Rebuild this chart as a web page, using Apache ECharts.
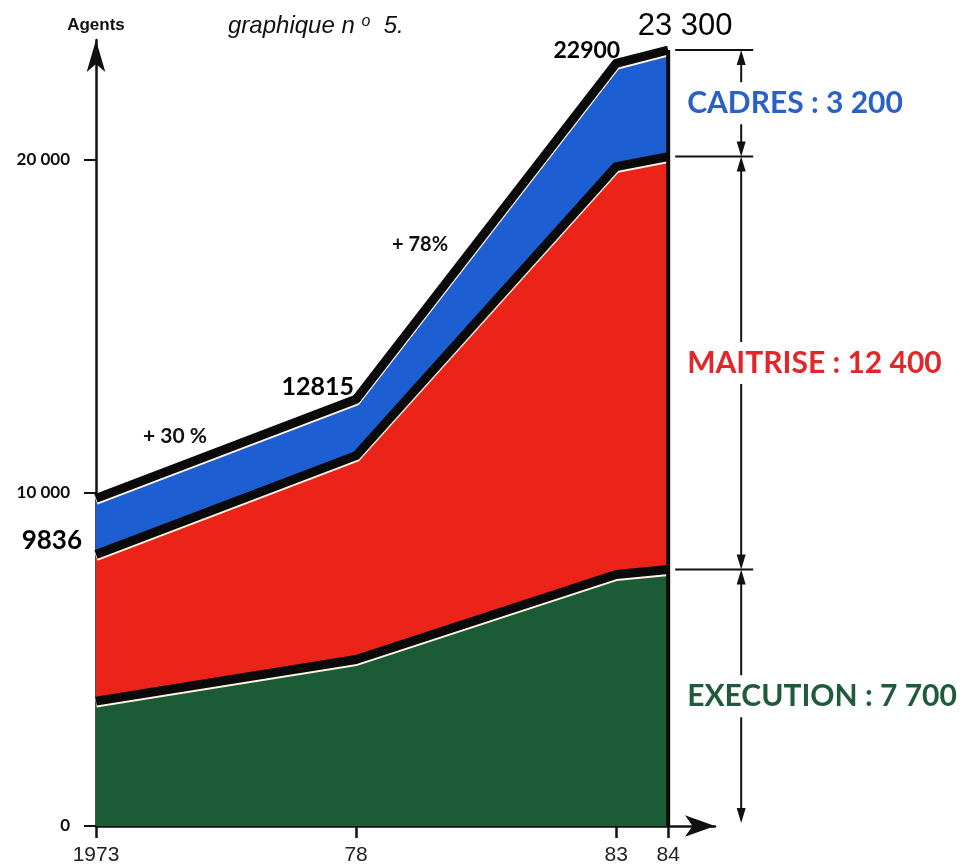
<!DOCTYPE html>
<html>
<head>
<meta charset="utf-8">
<script src="https://cdn.jsdelivr.net/npm/echarts@6/dist/echarts.min.js"></script>
<style>
  html, body { margin: 0; padding: 0; background: #ffffff; }
  #chart { width: 963px; height: 866px; }
</style>
</head>
<body>
<div id="chart"></div>
<script>
// Staff by category (agents), stacked
const years = [1973, 1978, 1983, 1984];
const yearTickLabels = ['1973', '78', '83', '84'];
const execution = [3750, 5000, 7550, 7700];
const maitrise = [4400, 6120, 12250, 12400];
const cadres = [1686, 1695, 3100, 3200];
const categoryNames = ['EXECUTION', 'MAITRISE', 'CADRES'];
const yTicks = [0, 10000, 20000];
const growthNotes = ['+ 30 %', '+ 78%'];

// cumulative layer tops
const topExecution = execution.slice();
const topMaitrise = years.map((_, i) => execution[i] + maitrise[i]);
const totals = years.map((_, i) => execution[i] + maitrise[i] + cadres[i]);

const GREEN = '#1b5b36';
const RED = '#eb2318';
const BLUE = '#1d5fd3';
const labelColors = ['#1f5a3b', '#e2262a', '#2b61c6'];
const INK = '#111111';

function groupDigits(v) {
  return String(v).replace(/\B(?=(\d{3})+(?!\d))/g, ' ');
}

function pairs(arr) {
  return arr.map((v, i) => [years[i], v]);
}

// each layer is filled from zero up to its cumulative top; upper layers are drawn first
function areaSeries(name, tops, color, z) {
  return {
    name, type: 'line', data: pairs(tops),
    symbol: 'none', clip: false, silent: true, z,
    lineStyle: { width: 0 },
    areaStyle: { color, opacity: 1 }
  };
}

function edgeSeries(tops) {
  return {
    type: 'line', data: pairs(tops),
    symbol: 'none', clip: false, silent: true, z: 3,
    lineStyle: {
      color: '#0a0a0a', width: 9, join: 'round',
      shadowColor: '#fff4e6', shadowBlur: 0, shadowOffsetY: 2
    }
  };
}

// label placement of each total, in screen offsets
const totalLabelStyles = [
  { position: 'left', distance: 14, offset: [0, 42], fontSize: 26, fontWeight: 'bold', fontFamily: 'Lato' },
  { position: 'left', distance: 2, offset: [0, -12], fontSize: 25, fontWeight: 'bold', fontFamily: 'Lato' },
  { position: 'left', distance: 0, offset: [4, -13], fontSize: 23, fontWeight: 'bold', fontFamily: 'Lato' },
  { position: 'top', distance: 4, offset: [17, -4], fontSize: 31, fontWeight: 'normal', fontFamily: 'Liberation Sans' }
];

const last = years.length - 1;
const shares = [execution[last], maitrise[last], cadres[last]];
let acc = 0;
const bracketData = shares.map((v, k) => {
  const lo = acc;
  acc += v;
  return [years[last], lo, acc, k];
});

function renderBracket(params, api) {
  const lo = api.value(1), hi = api.value(2), k = api.value(3);
  const pLo = api.coord([api.value(0), lo]);
  const pHi = api.coord([api.value(0), hi]);
  const x = pLo[0] + 73;
  const yHi = pHi[1];
  const yLo = lo === 0 ? pLo[1] - 3 : pLo[1];
  const ah = 15, aw = 4.5;
  const stroke = { stroke: INK, lineWidth: 2 };
  const children = [
    { type: 'line', shape: { x1: x, y1: yHi + ah - 1, x2: x, y2: yLo - ah + 1 }, style: stroke },
    { type: 'polygon', shape: { points: [[x, yHi], [x - aw, yHi + ah], [x + aw, yHi + ah]] }, style: { fill: INK } },
    { type: 'polygon', shape: { points: [[x, yLo], [x - aw, yLo - ah], [x + aw, yLo - ah]] }, style: { fill: INK } },
    { type: 'line', shape: { x1: pHi[0] + 7, y1: yHi, x2: pHi[0] + 85, y2: yHi }, style: stroke },
    {
      type: 'text',
      x: pLo[0] + 19, y: (yLo + yHi) / 2,
      style: {
        text: categoryNames[k] + ' : ' + groupDigits(hi - lo),
        fill: labelColors[k],
        font: 'bold 30px Lato',
        verticalAlign: 'middle', align: 'left',
        backgroundColor: '#ffffff', padding: [6, 0, 6, 0]
      }
    }
  ];
  return { type: 'group', children };
}

const chart = echarts.init(document.getElementById('chart'), null, { renderer: 'canvas' });

chart.setOption({
  backgroundColor: '#ffffff',
  animation: false,
  title: {
    text: 'graphique n {s|o}  5.',
    left: 223, top: 9,
    textStyle: {
      fontFamily: 'Liberation Sans', fontStyle: 'italic', fontWeight: 'normal',
      fontSize: 24, color: INK,
      rich: { s: { fontFamily: 'Liberation Sans', fontStyle: 'italic', fontSize: 16, verticalAlign: 'top', color: INK } }
    }
  },
  grid: { left: 96, right: 248, top: 40, bottom: 39 },
  xAxis: {
    type: 'value', min: 1973, max: 1984.9, interval: 1,
    axisLine: {
      lineStyle: { color: INK, width: 2.5 },
      symbol: ['none', 'arrow'], symbolSize: [16, 30]
    },
    axisTick: { customValues: years, length: 12, lineStyle: { color: INK, width: 2.5 } },
    axisLabel: {
      customValues: years,
      formatter: v => yearTickLabels[years.indexOf(v)],
      margin: 19, fontSize: 21, fontFamily: 'Liberation Sans', color: '#222'
    },
    splitLine: { show: false }
  },
  yAxis: {
    type: 'value', min: 0, max: 23600, interval: 10000,
    name: 'Agents', nameLocation: 'end', nameGap: 6,
    nameTextStyle: { fontFamily: 'Liberation Sans', fontWeight: 'bold', fontSize: 17, color: INK, align: 'center' },
    axisLine: {
      show: true, lineStyle: { color: INK, width: 2.5 },
      symbol: ['none', 'arrow'], symbolSize: [14, 32]
    },
    axisTick: { show: true, customValues: yTicks, length: 12, lineStyle: { color: INK, width: 2 } },
    axisLabel: {
      customValues: yTicks, margin: 26,
      formatter: v => groupDigits(v),
      fontFamily: 'Lato', fontWeight: 'bold', fontSize: 17, color: INK
    },
    splitLine: { show: false }
  },
  graphic: [
    { type: 'text', x: 175, y: 436, style: { text: growthNotes[0], fill: INK, font: 'bold 21px Lato', align: 'center', verticalAlign: 'middle' } },
    { type: 'text', x: 420, y: 245, style: { text: growthNotes[1], fill: INK, font: 'bold 20px Lato', align: 'center', verticalAlign: 'middle' } }
  ],
  series: [
    areaSeries('CADRES', totals, BLUE, 1),
    areaSeries('MAITRISE', topMaitrise, RED, 1),
    areaSeries('EXECUTION', topExecution, GREEN, 1),
    edgeSeries(topExecution),
    edgeSeries(topMaitrise),
    edgeSeries(totals),
    {
      // closing edge at the last year
      type: 'line', data: [[years[last], 0], [years[last], totals[last]]],
      symbol: 'none', clip: false, silent: true, z: 3,
      lineStyle: { color: '#0a0a0a', width: 4 }
    },
    {
      type: 'scatter', symbolSize: 0, clip: false, silent: true, z: 5,
      itemStyle: { opacity: 1 },
      data: totals.map((t, i) => ({
        value: [years[i], t],
        label: Object.assign({ show: true, color: '#000000' }, totalLabelStyles[i])
      })),
      label: {
        show: true,
        formatter: p => (p.dataIndex === last ? groupDigits(p.value[1]) : String(p.value[1]))
      }
    },
    {
      type: 'custom', data: bracketData, renderItem: renderBracket,
      clip: false, silent: true, z: 4,
      encode: { x: 0, y: [1, 2] }
    }
  ]
});
</script>
</body>
</html>
